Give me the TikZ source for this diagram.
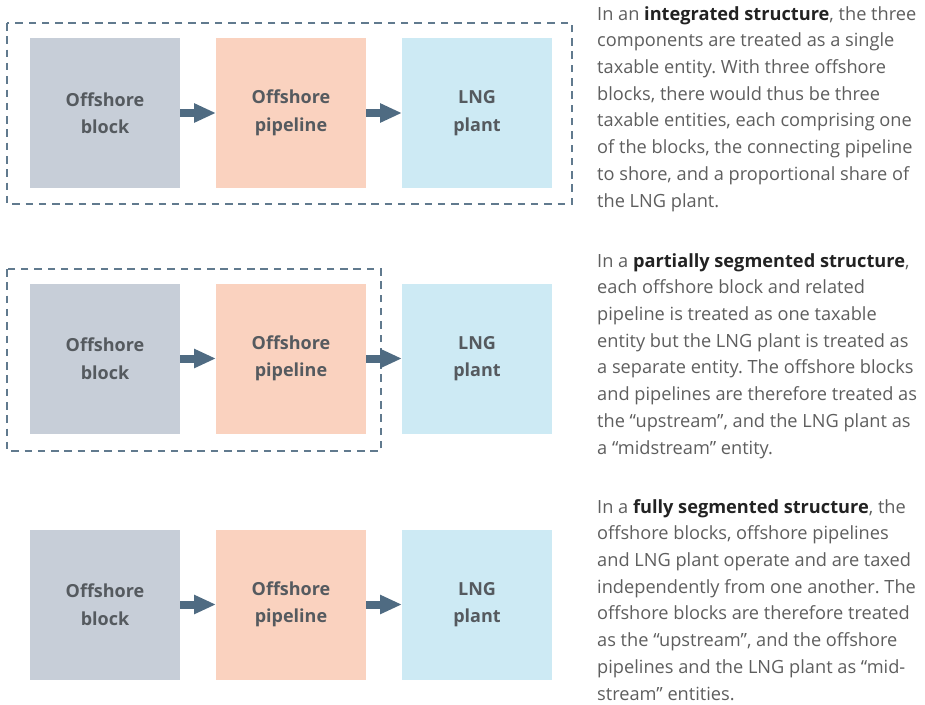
\documentclass[tikz,border=0pt]{standalone}
\usepackage{fontspec}
\setmainfont{Open Sans}
\usepackage{xcolor}
\usetikzlibrary{arrows.meta,positioning}
\definecolor{slate}{HTML}{4F6B82}
\definecolor{blockgray}{HTML}{C7CED8}
\definecolor{pipepeach}{HTML}{FAD2BF}
\definecolor{plantblue}{HTML}{CDEAF4}
\definecolor{labelgray}{HTML}{555A5F}
\definecolor{bodygray}{HTML}{5E5E5E}
\definecolor{boldgray}{HTML}{222222}
\tikzset{
  comp/.style={minimum size=150pt, inner sep=0pt, outer sep=0pt, align=center,
    text=labelgray, font=\fontsize{18}{27.5}\selectfont\bfseries},
  flow/.style={draw=slate, line width=8pt, -{Triangle[length=22pt,width=18pt]}},
  frame/.style={draw=slate!90!white, line width=2.6pt, dash pattern=on 7.5pt off 5.8pt},
  note/.style={anchor=base west, inner sep=0pt, align=left, text=bodygray,
    font=\fontsize{18.2}{26.7}\selectfont\frenchspacing}
}
\newcommand{\hl}[1]{\textcolor{boldgray}{\textbf{#1}}}

\begin{document}
\begin{tikzpicture}[x=1pt, y=-1pt]
  \useasboundingbox (0,0) rectangle (925,704);

  % grouping frames
  \draw[frame] (7,23) rectangle (572,204);
  \draw[frame] (7,269) rectangle (381,451);

  % integrated
  \node[comp, fill=blockgray] (blkA) at (105,113) {Offshore\\block};
  \node[comp, fill=pipepeach, right=36pt of blkA] (pipeA) {Offshore\\pipeline};
  \node[comp, fill=plantblue, right=36pt of pipeA] (lngA) {LNG\\plant};

  % partially segmented
  \node[comp, fill=blockgray] (blkB) at (105,358.5) {Offshore\\block};
  \node[comp, fill=pipepeach, right=36pt of blkB] (pipeB) {Offshore\\pipeline};
  \node[comp, fill=plantblue, right=36pt of pipeB] (lngB) {LNG\\plant};

  % fully segmented
  \node[comp, fill=blockgray] (blkC) at (105,604.5) {Offshore\\block};
  \node[comp, fill=pipepeach, right=36pt of blkC] (pipeC) {Offshore\\pipeline};
  \node[comp, fill=plantblue, right=36pt of pipeC] (lngC) {LNG\\plant};

  \draw[flow] (blkA) -- (pipeA);
  \draw[flow] (pipeA) -- (lngA);
  \draw[flow] (blkB) -- (pipeB);
  \draw[flow] (pipeB) -- (lngB);
  \draw[flow] (blkC) -- (pipeC);
  \draw[flow] (pipeC) -- (lngC);

  % explanations (anchored at the last baseline)
  \node[note] (noteA) at (597,207) {In an \hl{integrated structure}, the three\\
    components are treated as a single\\
    taxable entity. With three offshore\\
    blocks, there would thus be three\\
    taxable entities, each comprising one\\
    of the blocks, the connecting pipeline\\
    to shore, and a proportional share of\\
    the LNG plant.};
  \node[note] (noteB) at (597,454) {In a \hl{partially segmented structure},\\
    each offshore block and related\\
    pipeline is treated as one taxable\\
    entity but the LNG plant is treated as\\
    a separate entity. The offshore blocks\\
    and pipelines are therefore treated as\\
    the “upstream”, and the LNG plant as\\
    a “midstream” entity.};
  \node[note] (noteC) at (597,700) {In a \hl{fully segmented structure}, the\\
    offshore blocks, offshore pipelines\\
    and LNG plant operate and are taxed\\
    independently from one another. The\\
    offshore blocks are therefore treated\\
    as the “upstream”, and the offshore\\
    pipelines and the LNG plant as “mid-\\
    stream” entities.};
\end{tikzpicture}
\end{document}
